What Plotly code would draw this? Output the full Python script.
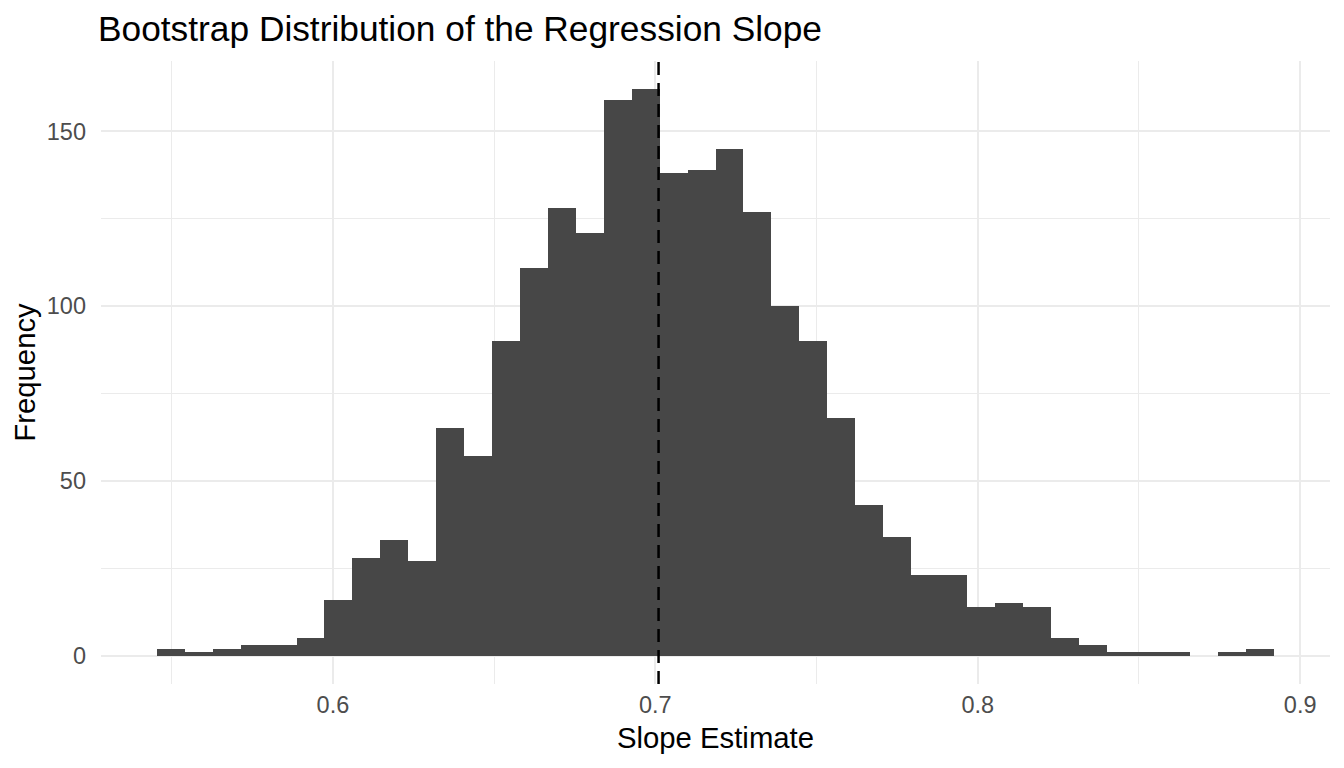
import numpy as np
import plotly.graph_objects as go

# histogram of bootstrap slopes, 40 bins
bin_start = 0.5454
bin_width = 0.008663
counts = [2, 1, 2, 3, 3, 5, 16, 28, 33, 27,
          65, 57, 90, 111, 128, 121, 159, 162, 138, 139,
          145, 127, 100, 90, 68, 43, 34, 23, 23, 14,
          15, 14, 5, 3, 1, 1, 1, 0, 1, 2]
observed_slope = 0.701

x_ticks = [0.6, 0.7, 0.8, 0.9]
y_ticks = [0, 50, 100, 150]

centers = bin_start + bin_width * (np.arange(len(counts)) + 0.5)

fig = go.Figure()
fig.add_bar(x=centers, y=counts, width=bin_width,
            marker=dict(color="#474747", line=dict(width=0)))

fig.add_shape(type="line", x0=observed_slope, x1=observed_slope,
              xref="x", yref="paper", y0=0, y1=1,
              line=dict(color="black", width=2.5, dash="13px,8px"))

lo = bin_start
hi = bin_start + bin_width * len(counts)
pad = (hi - lo) * 0.05
ymax = max(counts)

# page body has an 8px margin, so the figure is a bit smaller than the window
W, H = 1336, 760
fig.update_layout(
    width=W, height=H,
    margin=dict(l=93, r=14, t=53, b=84),
    paper_bgcolor="white", plot_bgcolor="white",
    font=dict(family="Liberation Sans, Arial, sans-serif", color="black"),
    showlegend=False,
    bargap=0,
    title=dict(text="Bootstrap Distribution of the Regression Slope",
               font=dict(size=35.3, color="black"),
               xref="container", x=90 / W, xanchor="left",
               yref="container", y=1 - 21 / H, yanchor="middle"),
)
fig.update_xaxes(
    range=[lo - pad, hi + pad],
    tickvals=x_ticks, ticktext=[str(v) for v in x_ticks],
    tickfont=dict(size=23.5, color="#4D4D4D"),
    ticks="", ticklabelstandoff=4,
    showgrid=True, gridcolor="#EBEBEB", gridwidth=2,
    minor=dict(tickvals=[0.55, 0.65, 0.75, 0.85], showgrid=True,
               gridcolor="#EBEBEB", gridwidth=1, ticks=""),
    zeroline=False, showline=False, automargin=False,
    title=dict(text="Slope Estimate", font=dict(size=29.3, color="black"),
               standoff=10),
)
fig.update_yaxes(
    range=[-ymax * 0.05, ymax * 1.05],
    tickvals=y_ticks, ticktext=[str(v) for v in y_ticks],
    tickfont=dict(size=23.5, color="#4D4D4D"),
    ticks="", ticklabelstandoff=14,
    showgrid=True, gridcolor="#EBEBEB", gridwidth=2,
    minor=dict(tickvals=[25, 75, 125], showgrid=True,
               gridcolor="#EBEBEB", gridwidth=1, ticks=""),
    zeroline=False, showline=False, automargin=False,
    title=dict(text="Frequency", font=dict(size=29.3, color="black"),
               standoff=2),
)

fig.write_html("out.html")
